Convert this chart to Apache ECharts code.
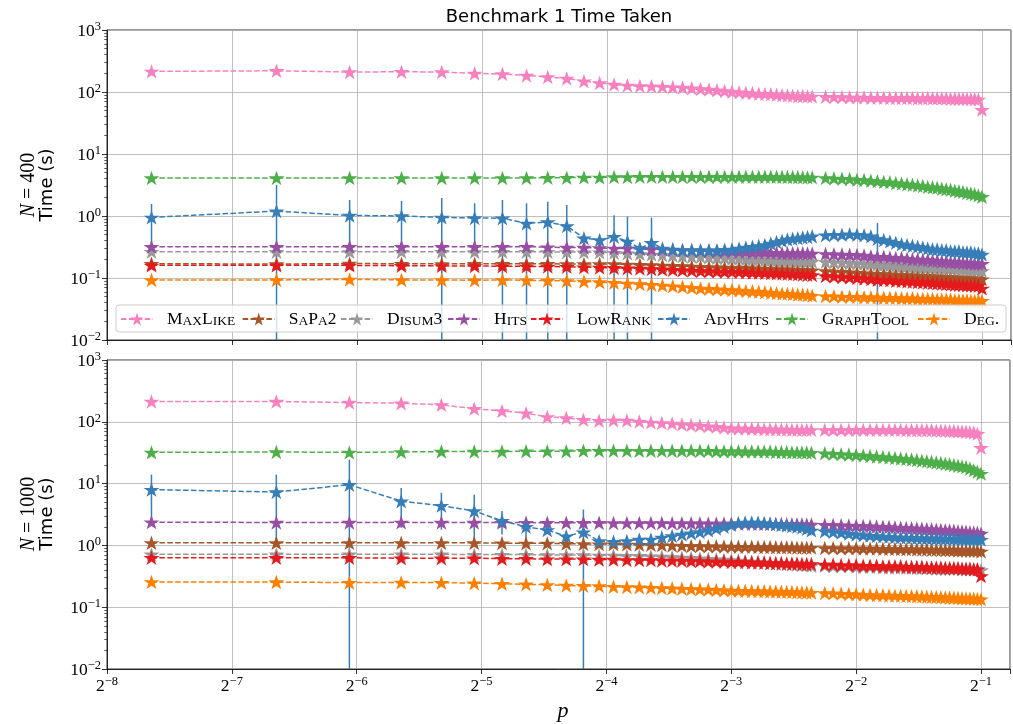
<!DOCTYPE html>
<html><head><meta charset="utf-8">
<script src="https://cdn.jsdelivr.net/npm/echarts@6/dist/echarts.min.js"></script>
<style>html,body{margin:0;padding:0;background:#fff}#c{width:1013px;height:724px}</style>
</head><body><div id="c"></div>
<script>
// ---- x values (p) ----
const pA = [0.005,0.01,0.015,0.02,0.025,0.03,0.035,0.04,0.045,0.05,0.055,0.06,0.065,0.07,0.075,0.08,0.085,0.09,0.095,0.1,0.105,0.11,0.115,0.12,0.125,0.13,0.135,0.14,0.145,0.15,0.155,0.16,0.165,0.17,0.175,0.18,0.185,0.19,0.195];
const pB = [0.21,0.22,0.23,0.24,0.25,0.26,0.27,0.28,0.29,0.3,0.31,0.32,0.33,0.34,0.35,0.36,0.37,0.38,0.39,0.4,0.41,0.42,0.43,0.44,0.45,0.46,0.47,0.48,0.49,0.5];

const seriesNames = ['MaxLike','SaPa2','Disum3','Hits','LowRank','AdvHits','GraphTool','Deg.'];
const seriesColors = ['#f781bf','#a65628','#999999','#984ea3','#e41a1c','#377eb8','#4daf4a','#ff7f00'];

// ---- N = 400 (seconds) ----
const maxLike400A = [215,220,210,212,210,200,195,185,175,165,150,140,132,128,125,124,122,120,118,115,112,110,107,104,101,99,97,96,94,93,92,90,89,88,87,86,86,85,85];
const maxLike400B = [84,83,83,82,82,82,81,81,81,80,80,80,80,80,79,79,80,79,79,79,79,78,78,78,78,78,77,77,76,52];
const sapa400A = [0.17,0.168,0.171,0.17,0.169,0.17,0.17,0.169,0.17,0.168,0.169,0.168,0.168,0.166,0.164,0.162,0.16,0.158,0.156,0.154,0.152,0.15,0.149,0.148,0.147,0.146,0.145,0.144,0.143,0.142,0.141,0.14,0.139,0.138,0.137,0.136,0.135,0.134,0.133];
const sapa400B = [0.13,0.128,0.126,0.124,0.122,0.12,0.118,0.117,0.116,0.115,0.114,0.113,0.112,0.111,0.11,0.109,0.108,0.107,0.106,0.105,0.104,0.103,0.102,0.101,0.1,0.1,0.099,0.098,0.097,0.096];
const disum400A = [0.265,0.265,0.264,0.265,0.265,0.264,0.265,0.265,0.264,0.263,0.26,0.26,0.255,0.25,0.245,0.24,0.235,0.23,0.225,0.22,0.22,0.215,0.21,0.21,0.205,0.205,0.2,0.2,0.2,0.195,0.195,0.19,0.19,0.19,0.19,0.185,0.185,0.185,0.185];
const disum400B = [0.182,0.18,0.178,0.175,0.172,0.17,0.168,0.165,0.163,0.16,0.158,0.156,0.154,0.152,0.15,0.149,0.147,0.146,0.145,0.144,0.143,0.142,0.141,0.14,0.139,0.138,0.137,0.136,0.135,0.13];
const hits400A = [0.32,0.32,0.32,0.32,0.32,0.32,0.32,0.32,0.315,0.31,0.31,0.305,0.3,0.3,0.295,0.29,0.29,0.285,0.28,0.28,0.275,0.275,0.27,0.27,0.27,0.265,0.265,0.26,0.26,0.26,0.255,0.255,0.25,0.25,0.25,0.25,0.25,0.248,0.248];
const hits400B = [0.245,0.242,0.24,0.238,0.235,0.23,0.225,0.22,0.22,0.215,0.21,0.21,0.205,0.2,0.2,0.195,0.195,0.19,0.19,0.185,0.185,0.18,0.18,0.18,0.175,0.175,0.175,0.17,0.17,0.17];
const lowRank400A = [0.16,0.16,0.16,0.158,0.157,0.156,0.155,0.154,0.153,0.152,0.15,0.148,0.146,0.144,0.142,0.14,0.138,0.136,0.134,0.132,0.13,0.129,0.128,0.127,0.126,0.125,0.124,0.123,0.122,0.121,0.12,0.119,0.118,0.117,0.116,0.115,0.114,0.113,0.112];
const lowRank400B = [0.108,0.106,0.104,0.102,0.1,0.098,0.096,0.094,0.093,0.092,0.09,0.089,0.088,0.087,0.086,0.085,0.084,0.083,0.082,0.081,0.08,0.079,0.078,0.078,0.077,0.076,0.076,0.075,0.075,0.068];
const advHits400A = [0.95,1.2,1.02,1.0,0.95,0.93,0.92,0.76,0.8,0.69,0.44,0.41,0.465,0.39,0.3,0.37,0.3,0.29,0.28,0.28,0.28,0.28,0.28,0.285,0.29,0.3,0.31,0.32,0.33,0.34,0.36,0.38,0.4,0.42,0.43,0.44,0.45,0.46,0.47];
const advHits400B = [0.49,0.5,0.5,0.51,0.5,0.49,0.47,0.43,0.41,0.39,0.37,0.35,0.34,0.33,0.32,0.31,0.3,0.29,0.29,0.28,0.28,0.27,0.27,0.27,0.26,0.26,0.26,0.25,0.25,0.24];
const graph400A = [4.1,4.1,4.1,4.1,4.1,4.1,4.1,4.1,4.15,4.15,4.2,4.2,4.25,4.25,4.3,4.3,4.3,4.3,4.3,4.3,4.3,4.3,4.3,4.3,4.3,4.3,4.3,4.3,4.3,4.3,4.3,4.28,4.28,4.26,4.25,4.24,4.22,4.2,4.2];
const graph400B = [4.1,4.05,4.0,3.95,3.85,3.8,3.7,3.65,3.55,3.5,3.4,3.35,3.25,3.2,3.1,3.05,2.95,2.9,2.85,2.75,2.7,2.65,2.55,2.5,2.45,2.35,2.3,2.25,2.15,2.05];
const deg400A = [0.093,0.093,0.095,0.093,0.093,0.092,0.093,0.092,0.091,0.09,0.088,0.086,0.084,0.082,0.08,0.078,0.076,0.074,0.072,0.07,0.068,0.067,0.066,0.065,0.064,0.063,0.062,0.061,0.06,0.059,0.058,0.057,0.056,0.056,0.055,0.054,0.054,0.053,0.052];
const deg400B = [0.051,0.051,0.05,0.05,0.05,0.049,0.049,0.049,0.048,0.048,0.048,0.047,0.047,0.047,0.046,0.046,0.046,0.046,0.045,0.045,0.045,0.045,0.044,0.044,0.044,0.044,0.043,0.043,0.043,0.043];

// ---- N = 1000 (seconds) ----
const maxLike1000A = [213,213,205,200,188,163,150,138,120,115,108,104,106,105,101,98,96,94,91,89,87,85,83,81,79,78,78,77,77,76,76,75,75,75,74,74,74,74,74];
const maxLike1000B = [74,74,74,74,74,74,74,74,74,74,74,74,73,73,73,73,73,73,72,72,72,71,71,70,70,69,68,67,64,38];
const sapa1000A = [1.1,1.1,1.1,1.1,1.1,1.1,1.09,1.08,1.08,1.07,1.06,1.05,1.05,1.04,1.03,1.02,1.01,1.0,0.99,0.98,0.98,0.97,0.97,0.96,0.96,0.95,0.95,0.95,0.94,0.94,0.94,0.93,0.93,0.93,0.93,0.92,0.92,0.92,0.92];
const sapa1000B = [0.91,0.91,0.9,0.9,0.9,0.89,0.89,0.89,0.88,0.88,0.88,0.87,0.87,0.87,0.86,0.86,0.86,0.85,0.85,0.85,0.84,0.84,0.84,0.83,0.83,0.83,0.82,0.82,0.82,0.8];
const disum1000A = [0.72,0.72,0.72,0.72,0.72,0.71,0.71,0.71,0.7,0.7,0.7,0.69,0.69,0.68,0.68,0.67,0.66,0.65,0.64,0.63,0.62,0.61,0.6,0.59,0.58,0.57,0.56,0.55,0.54,0.53,0.52,0.51,0.5,0.5,0.49,0.49,0.48,0.48,0.47];
const disum1000B = [0.47,0.46,0.46,0.46,0.45,0.45,0.45,0.45,0.44,0.44,0.44,0.44,0.44,0.43,0.43,0.43,0.43,0.43,0.42,0.42,0.42,0.42,0.42,0.42,0.41,0.41,0.41,0.41,0.41,0.4];
const hits1000A = [2.38,2.35,2.35,2.36,2.35,2.35,2.34,2.34,2.33,2.33,2.32,2.32,2.31,2.31,2.3,2.3,2.3,2.29,2.29,2.28,2.28,2.27,2.27,2.26,2.26,2.25,2.25,2.24,2.24,2.23,2.23,2.22,2.22,2.21,2.21,2.2,2.2,2.19,2.18];
const hits1000B = [2.16,2.14,2.12,2.1,2.08,2.06,2.04,2.02,2.0,1.98,1.96,1.94,1.92,1.9,1.88,1.86,1.84,1.82,1.8,1.78,1.76,1.74,1.72,1.7,1.68,1.66,1.64,1.62,1.6,1.56];
const lowRank1000A = [0.63,0.63,0.63,0.62,0.62,0.62,0.61,0.61,0.6,0.6,0.6,0.59,0.59,0.58,0.58,0.58,0.57,0.57,0.57,0.56,0.56,0.55,0.55,0.55,0.54,0.54,0.54,0.53,0.53,0.53,0.52,0.52,0.52,0.51,0.51,0.51,0.5,0.5,0.5];
const lowRank1000B = [0.49,0.49,0.48,0.48,0.48,0.47,0.47,0.47,0.46,0.46,0.46,0.46,0.45,0.45,0.45,0.45,0.44,0.44,0.44,0.44,0.43,0.43,0.43,0.43,0.42,0.42,0.42,0.41,0.41,0.32];
const advHits1000A = [8.0,7.3,9.6,5.2,4.4,3.6,2.5,2.0,1.77,1.41,1.64,1.18,1.15,1.18,1.25,1.25,1.35,1.42,1.5,1.57,1.65,1.75,1.88,2.0,2.15,2.3,2.35,2.35,2.35,2.3,2.25,2.2,2.15,2.1,2.05,2.0,1.95,1.85,1.75];
const advHits1000B = [1.7,1.65,1.6,1.55,1.5,1.47,1.44,1.42,1.4,1.38,1.36,1.35,1.34,1.33,1.32,1.31,1.3,1.3,1.29,1.29,1.28,1.28,1.27,1.27,1.26,1.26,1.26,1.25,1.25,1.24];
const graph1000A = [32,32.5,32,32.5,33,33,33,33.5,33.5,33.5,34,34,34,34,34,34,34,34,34,34,34,34,33.5,33.5,33.5,33.5,33,33,33,33,33,32.5,32.5,32.5,32,32,32,32,31.5];
const graph1000B = [31,30.5,30,29.5,29,28.5,28,27.5,27,26.5,26,25.5,25,24.5,24,23.5,23,22.5,22,21.5,21,20.5,20,19.5,19,18.5,17.5,16.5,15.5,14.5];
const deg1000A = [0.257,0.255,0.25,0.252,0.25,0.245,0.24,0.235,0.23,0.225,0.222,0.22,0.215,0.212,0.21,0.207,0.205,0.202,0.2,0.197,0.195,0.193,0.19,0.188,0.186,0.185,0.184,0.183,0.182,0.181,0.18,0.179,0.178,0.177,0.176,0.175,0.174,0.173,0.172];
const deg1000B = [0.17,0.168,0.166,0.164,0.162,0.16,0.158,0.157,0.156,0.155,0.154,0.153,0.152,0.151,0.15,0.149,0.148,0.147,0.146,0.145,0.144,0.143,0.142,0.141,0.14,0.139,0.138,0.137,0.136,0.135];

// ---- AdvHits error bars (upper / lower end; 0 = runs below the axis) ----
const errP400  = [0.005,0.01,0.015,0.02,0.025,0.03,0.035,0.04,0.045,0.05,0.065,0.07,0.08,0.28];
const errHi400 = [1.56,3.16,1.81,1.75,1.95,1.6,1.81,1.6,1.7,1.5,1.03,0.98,0.94,0.77];
const errLo400 = [0.32,0,0.3,0.3,0,0.3,0,0,0,0,0,0,0,0];
const errP1000  = [0.005,0.01,0.015,0.02,0.025,0.03,0.035,0.04,0.055];
const errHi1000 = [14,14,24.4,8.5,7.1,6.6,3.6,2.6,3.8];
const errLo1000 = [2.6,1.25,0,1.93,1.8,1.0,1.5,1.26,0];

// ---- ticks ----
const yMin = 0.01, yMax = 1000;
const xMin = Math.pow(2, -8), xMax = Math.pow(2, -0.768);
const yMinorTicks = [];
for (let e = -2; e < 3; e++) for (let m = 2; m <= 9; m++) yMinorTicks.push(m * Math.pow(10, e));

const panel400 = [[maxLike400A,maxLike400B],[sapa400A,sapa400B],[disum400A,disum400B],[hits400A,hits400B],[lowRank400A,lowRank400B],[advHits400A,advHits400B],[graph400A,graph400B],[deg400A,deg400B]];
const panel1000 = [[maxLike1000A,maxLike1000B],[sapa1000A,sapa1000B],[disum1000A,disum1000B],[hits1000A,hits1000B],[lowRank1000A,lowRank1000B],[advHits1000A,advHits1000B],[graph1000A,graph1000B],[deg1000A,deg1000B]];

const STAR = 'path://M0,-100L22.45,-30.9L95.1,-30.9L36.3,11.8L58.8,80.9L0,38.2L-58.8,80.9L-36.3,11.8L-95.1,-30.9L-22.45,-30.9Z';
const SERIF = 'Liberation Serif';
const SANS = 'DejaVu Sans';

function zip(xs, ys) { return xs.map((x, i) => [x, ys[i]]); }
function lineSeries(name, color, gi, xs, ys) {
  return {
    type: 'line', name, xAxisIndex: gi, yAxisIndex: gi, data: zip(xs, ys),
    symbol: STAR, symbolSize: [16, 15.2], symbolKeepAspect: true, showAllSymbol: true,
    itemStyle: { color }, lineStyle: { color, width: 1.5, type: [5.5, 2.4] },
    emphasis: { disabled: true }, silent: true, clip: true, z: 2
  };
}
function errSeries(gi, ps, his, los) {
  return {
    type: 'custom', xAxisIndex: gi, yAxisIndex: gi, silent: true, clip: true, z: 2,
    data: ps.map((p, i) => [p, his[i], los[i] > 0 ? los[i] : yMin]),
    renderItem: function (params, api) {
      const a = api.coord([api.value(0), api.value(1)]);
      const b = api.coord([api.value(0), api.value(2)]);
      return { type: 'line', shape: { x1: a[0], y1: a[1], x2: b[0], y2: b[1] },
               style: { stroke: '#377eb8', lineWidth: 1.5 } };
    }
  };
}

const series = [];
[panel400, panel1000].forEach((panel, gi) => {
  panel.forEach((pair, si) => {
    if (si === 5) series.push(gi === 0 ? errSeries(0, errP400, errHi400, errLo400) : errSeries(1, errP1000, errHi1000, errLo1000));
    series.push(lineSeries(seriesNames[si], seriesColors[si], gi, pA, pair[0]));
    series.push(lineSeries(seriesNames[si], seriesColors[si], gi, pB, pair[1]));
  });
});

function supNum(e) { return e < 0 ? '\u2212' + (-e) : String(e); }
const tickRich = {
  b: { fontFamily: SERIF, fontSize: 17.5, lineHeight: 20, verticalAlign: 'bottom', color: '#000' },
  e: { fontFamily: SERIF, fontSize: 12.5, lineHeight: 12, verticalAlign: 'top', color: '#000' }
};
function yFmt(v) {
  const l = Math.log10(v), e = Math.round(l);
  if (Math.abs(l - e) > 1e-3) return '';
  return '{b|10}{e|' + supNum(e) + '}';
}
function xFmt(v) {
  const l = Math.log2(v), e = Math.round(l);
  if (Math.abs(l - e) > 1e-3) return '';
  return '{b|2}{e|' + supNum(e) + '}';
}
function smallCaps(s) {
  let out = '{g| }', cur = null, buf = '';
  for (const ch of s) {
    const t = (ch >= 'a' && ch <= 'z') ? 's' : 'c';
    const c = t === 's' ? ch.toUpperCase() : ch;
    if (t !== cur) { if (buf) out += '{' + cur + '|' + buf + '}'; buf = ''; cur = t; }
    buf += c;
  }
  if (buf) out += '{' + cur + '|' + buf + '}';
  return out;
}

const gridLine = { show: true, lineStyle: { color: '#b0b0b0', width: 0.8 } };
function xAxis(gi, labels) {
  return {
    type: 'log', logBase: 2, gridIndex: gi, min: xMin, max: xMax,
    axisLine: { show: true, lineStyle: { color: '#000', width: 0.8 } },
    axisTick: { show: true, inside: false, length: 5, lineStyle: { color: '#000', width: 0.8 } },
    axisLabel: { show: labels, formatter: xFmt, rich: tickRich, margin: 6, showMinLabel: true, showMaxLabel: true, hideOverlap: false },
    minorTick: { show: false }, splitLine: gridLine
  };
}
function yAxis(gi) {
  return {
    type: 'log', logBase: 10, gridIndex: gi, min: yMin, max: yMax,
    axisLine: { show: true, lineStyle: { color: '#000', width: 0.8 } },
    axisTick: { show: true, inside: false, length: 5, lineStyle: { color: '#000', width: 0.8 } },
    axisLabel: { formatter: yFmt, rich: tickRich, margin: 6, showMinLabel: true, showMaxLabel: true, hideOverlap: false },
    splitLine: gridLine
  };
}
function yMinorAxis(gi) {
  return {
    type: 'log', logBase: 10, gridIndex: gi, min: yMin, max: yMax, position: 'left',
    axisLine: { show: false }, axisLabel: { show: false }, splitLine: { show: false },
    axisTick: { show: true, inside: false, length: 2.8, customValues: yMinorTicks, lineStyle: { color: '#000', width: 0.6 } }
  };
}

// legend entries: one small legend per entry, placed at the handle start
const legendStarts = [120, 241.7, 340, 447, 530, 657, 775, 917];
const legendRich = {
  g: { width: 9, fontSize: 12 },
  c: { fontFamily: SERIF, fontSize: 17.5, lineHeight: 19, verticalAlign: 'bottom', color: '#000' },
  s: { fontFamily: SERIF, fontSize: 13.5, lineHeight: 14.7, verticalAlign: 'bottom', color: '#000' }
};
const legends = seriesNames.map((n, i) => ({
  left: legendStarts[i], top: 310.5, orient: 'horizontal', itemWidth: 32, itemHeight: 16, itemGap: 0,
  padding: 0, selectedMode: false, z: 5, data: [n], formatter: smallCaps,
  textStyle: { color: '#000', rich: legendRich }
}));

const yLabelRich = {
  n: { fontFamily: SERIF, fontStyle: 'italic', fontSize: 20, lineHeight: 19, fill: '#000' },
  q: { fontFamily: SERIF, fontSize: 20, lineHeight: 19, fill: '#000' },
  t: { fontFamily: SANS, fontSize: 18, lineHeight: 19, fill: '#000' }
};

const option = {
  animation: false,
  backgroundColor: '#fff',
  grid: [
    { left: 107, top: 30, width: 904, height: 310, show: true, borderColor: '#000', borderWidth: 0.8 },
    { left: 107, top: 360, width: 904, height: 309, show: true, borderColor: '#000', borderWidth: 0.8 }
  ],
  xAxis: [xAxis(0, false), xAxis(1, true)],
  yAxis: [yAxis(0), yAxis(1), yMinorAxis(0), yMinorAxis(1)],
  legend: legends,
  graphic: [
    { type: 'rect', z: 4, silent: true, shape: { x: 116, y: 305, width: 890, height: 27, r: 3 },
      style: { fill: 'rgba(255,255,255,0.8)', stroke: '#cccccc', lineWidth: 1 } },
    { type: 'text', x: 559, y: 17, silent: true,
      style: { text: 'Benchmark 1 Time Taken', fontFamily: SANS, fontSize: 18, fill: '#000', textAlign: 'center', textVerticalAlign: 'middle' } },
    { type: 'text', x: 38, y: 185, rotation: Math.PI / 2, silent: true,
      style: { text: '{n|N}{q| = 400}\n{t|Time (s)}', textAlign: 'center', textVerticalAlign: 'middle', rich: yLabelRich } },
    { type: 'text', x: 38, y: 514, rotation: Math.PI / 2, silent: true,
      style: { text: '{n|N}{q| = 1000}\n{t|Time (s)}', textAlign: 'center', textVerticalAlign: 'middle', rich: yLabelRich } },
    { type: 'text', x: 563, y: 711, silent: true,
      style: { text: 'p', fontFamily: SERIF, fontStyle: 'italic', fontSize: 22, fill: '#000', textAlign: 'center', textVerticalAlign: 'middle' } }
  ],
  series
};
const chart = echarts.init(document.getElementById('c'), null, { renderer: 'canvas' });
chart.setOption(option);
</script>
</body></html>
